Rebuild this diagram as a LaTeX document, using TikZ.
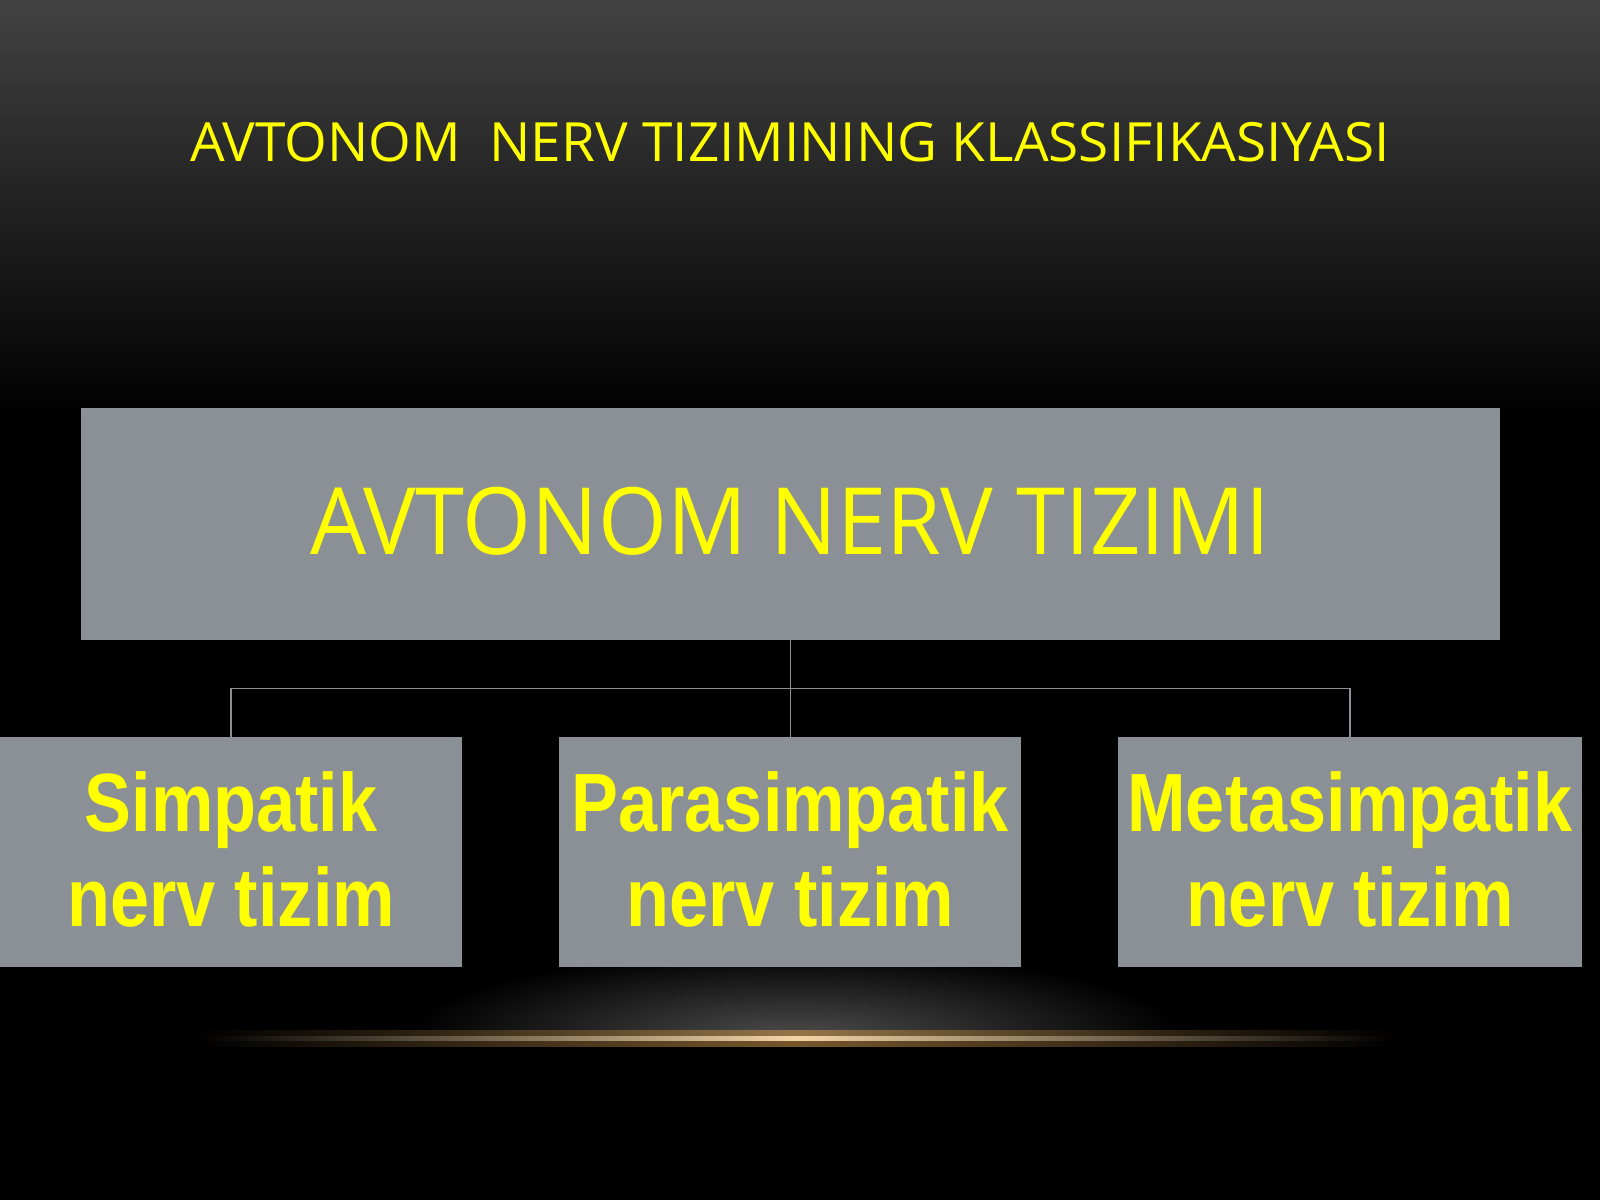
\documentclass[tikz,border=0pt]{standalone}
\usepackage{fontspec}
\newfontfamily\titlefont[FakeStretch=1.015]{Open Sans}
\newfontfamily\bigfont[FakeStretch=0.953]{Open Sans}
\newfontfamily\boxfont[FakeStretch=0.85]{Liberation Sans}
\usetikzlibrary{fadings}
\tikzfading[name=softglow, inner color=transparent!0, outer color=transparent!100]
\definecolor{boxgray}{HTML}{8A9096}
\definecolor{ylw}{HTML}{FFFF00}
\definecolor{topgray}{HTML}{424242}
\definecolor{gold}{HTML}{C8914A}
\definecolor{goldlight}{HTML}{F2D6A6}
\tikzset{
  box/.style={draw=none, fill=boxgray, inner sep=0pt},
  ttl/.style={text=ylw, inner sep=0pt, font=\titlefont\fontsize{53}{60}\selectfont},
  bigtxt/.style={text=ylw, inner sep=0pt, font=\bigfont\fontsize{91}{100}\selectfont},
  lbl/.style={text=ylw, inner sep=0pt, font=\boxfont\bfseries\fontsize{81}{93}\selectfont},
  conn/.style={draw=boxgray, line width=1.3pt}
}
\begin{document}
\begin{tikzpicture}[x=1pt,y=-1pt]
\useasboundingbox (0,0) rectangle (1568,1176);
% background
\fill[black] (0,0) rectangle (1568,1176);
\shade[top color=topgray, bottom color=black] (0,0) rectangle (1568,410);
% spotlight glow under the boxes
\begin{scope}
  \clip (0,940) rectangle (1568,1017);
  \fill[white, opacity=0.3, path fading=softglow] (780,1017) ellipse (380 and 85);
\end{scope}
% glowing line
\shade[left color=black, right color=black, middle color=gold, opacity=0.6] (190,1010) rectangle (1370,1026);
\shade[left color=black, right color=black, middle color=goldlight] (194,1016) rectangle (1367,1020);
% title
\node[ttl, anchor=base] (title) at (774,158) {AVTONOM\ \ NERV TIZIMINING KLASSIFIKASIYASI};
% boxes
\node[box, minimum width=1391pt, minimum height=227pt] (big) at (774.5,513.5) {};
\node[bigtxt, anchor=base] (bigt) at (774.5,543) {AVTONOM NERV TIZIMI};
\node[box, minimum width=453pt, minimum height=226pt] (s1) at (226.5,835) {};
\node[box, minimum width=453pt, minimum height=226pt] (s2) at (774.5,835) {};
\node[box, minimum width=454pt, minimum height=226pt] (s3) at (1323,835) {};
% connectors
\coordinate (junc) at (774.5,675);
\draw[conn] (big.south) -- (s2.north);
\draw[conn] (junc) -| (s1.north);
\draw[conn] (junc) -| (s3.north);
% labels
\node[lbl, anchor=base] (s1a) at (226.5,815) {Simpatik};
\node[lbl, anchor=base] (s1b) at (226.5,908) {nerv tizim};
\node[lbl, anchor=base] (s2a) at (774.5,815) {Parasimpatik};
\node[lbl, anchor=base] (s2b) at (774.5,908) {nerv tizim};
\node[lbl, anchor=base] (s3a) at (1323,815) {Metasimpatik};
\node[lbl, anchor=base] (s3b) at (1323,908) {nerv tizim};
\end{tikzpicture}
\end{document}
